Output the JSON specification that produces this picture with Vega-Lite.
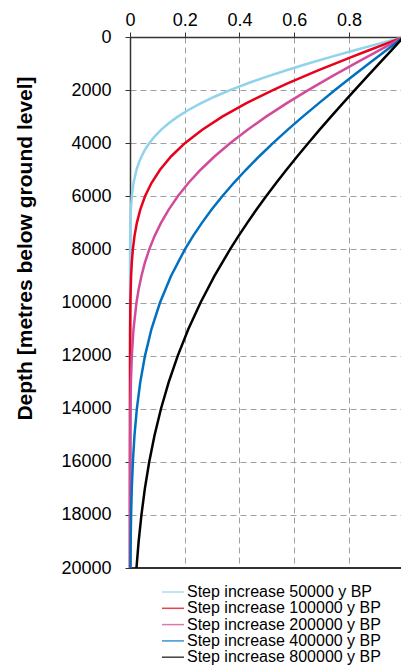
{
  "$schema": "https://vega.github.io/schema/vega-lite/v6.json",
  "width": 271,
  "height": 531,
  "autosize": {"type": "none"},
  "padding": {"left": 130, "top": 37, "right": 0, "bottom": 98},
  "background": "white",
  "config": {
    "view": {"stroke": null},
    "font": "Liberation Sans",
    "axis": {
      "labelFont": "Liberation Sans",
      "labelFontSize": 18,
      "labelColor": "#000000",
      "labelFlush": false,
      "titleFont": "Liberation Sans",
      "titleFontSize": 21,
      "titleFontWeight": "bold",
      "titleColor": "#000000",
      "domainColor": "#333333",
      "domainWidth": 1.5,
      "tickColor": "#333333",
      "tickSize": 5,
      "tickWidth": 1,
      "grid": true,
      "gridColor": "#a0a0a0",
      "gridDash": [6, 4],
      "gridWidth": 1
    }
  },
  "data": {
    "values": [
      {"s": "50000", "d": 0, "v": 1},
      {"s": "50000", "d": 250, "v": 0.9099},
      {"s": "50000", "d": 500, "v": 0.821},
      {"s": "50000", "d": 750, "v": 0.7343},
      {"s": "50000", "d": 1000, "v": 0.6509},
      {"s": "50000", "d": 1250, "v": 0.5716},
      {"s": "50000", "d": 1500, "v": 0.4973},
      {"s": "50000", "d": 1750, "v": 0.4284},
      {"s": "50000", "d": 2000, "v": 0.3654},
      {"s": "50000", "d": 2250, "v": 0.3086},
      {"s": "50000", "d": 2500, "v": 0.2579},
      {"s": "50000", "d": 2750, "v": 0.2133},
      {"s": "50000", "d": 3000, "v": 0.1746},
      {"s": "50000", "d": 3250, "v": 0.1414},
      {"s": "50000", "d": 3500, "v": 0.1132},
      {"s": "50000", "d": 3750, "v": 0.0897},
      {"s": "50000", "d": 4000, "v": 0.0703},
      {"s": "50000", "d": 4250, "v": 0.0544},
      {"s": "50000", "d": 4500, "v": 0.0418},
      {"s": "50000", "d": 4750, "v": 0.0316},
      {"s": "50000", "d": 5000, "v": 0.0237},
      {"s": "50000", "d": 5500, "v": 0.0128},
      {"s": "50000", "d": 6000, "v": 0.0066},
      {"s": "50000", "d": 6500, "v": 0.0033},
      {"s": "50000", "d": 7000, "v": 0.0016},
      {"s": "50000", "d": 7500, "v": 0.0007},
      {"s": "50000", "d": 8000, "v": 0.0003},
      {"s": "50000", "d": 9000, "v": 0.0001},
      {"s": "50000", "d": 10000, "v": 0},
      {"s": "50000", "d": 14000, "v": 0},
      {"s": "50000", "d": 20000, "v": 0},
      {"s": "100000", "d": 0, "v": 1},
      {"s": "100000", "d": 250, "v": 0.9363},
      {"s": "100000", "d": 500, "v": 0.8729},
      {"s": "100000", "d": 750, "v": 0.8104},
      {"s": "100000", "d": 1000, "v": 0.749},
      {"s": "100000", "d": 1250, "v": 0.6892},
      {"s": "100000", "d": 1500, "v": 0.6312},
      {"s": "100000", "d": 1750, "v": 0.5755},
      {"s": "100000", "d": 2000, "v": 0.5222},
      {"s": "100000", "d": 2500, "v": 0.4236},
      {"s": "100000", "d": 3000, "v": 0.3371},
      {"s": "100000", "d": 3500, "v": 0.2627},
      {"s": "100000", "d": 4000, "v": 0.2005},
      {"s": "100000", "d": 4500, "v": 0.1498},
      {"s": "100000", "d": 5000, "v": 0.1097},
      {"s": "100000", "d": 5500, "v": 0.0784},
      {"s": "100000", "d": 6000, "v": 0.0549},
      {"s": "100000", "d": 6500, "v": 0.0375},
      {"s": "100000", "d": 7000, "v": 0.0251},
      {"s": "100000", "d": 7500, "v": 0.0164},
      {"s": "100000", "d": 8000, "v": 0.0105},
      {"s": "100000", "d": 8500, "v": 0.0065},
      {"s": "100000", "d": 9000, "v": 0.004},
      {"s": "100000", "d": 10000, "v": 0.0014},
      {"s": "100000", "d": 11000, "v": 0.0005},
      {"s": "100000", "d": 12000, "v": 0.0002},
      {"s": "100000", "d": 14000, "v": 0},
      {"s": "100000", "d": 20000, "v": 0},
      {"s": "200000", "d": 0, "v": 1},
      {"s": "200000", "d": 500, "v": 0.9099},
      {"s": "200000", "d": 1000, "v": 0.821},
      {"s": "200000", "d": 1500, "v": 0.7343},
      {"s": "200000", "d": 2000, "v": 0.6509},
      {"s": "200000", "d": 2500, "v": 0.5716},
      {"s": "200000", "d": 3000, "v": 0.4973},
      {"s": "200000", "d": 3500, "v": 0.4284},
      {"s": "200000", "d": 4000, "v": 0.3654},
      {"s": "200000", "d": 4500, "v": 0.3086},
      {"s": "200000", "d": 5000, "v": 0.2579},
      {"s": "200000", "d": 5500, "v": 0.2133},
      {"s": "200000", "d": 6000, "v": 0.1746},
      {"s": "200000", "d": 6500, "v": 0.1414},
      {"s": "200000", "d": 7000, "v": 0.1132},
      {"s": "200000", "d": 7500, "v": 0.0897},
      {"s": "200000", "d": 8000, "v": 0.0703},
      {"s": "200000", "d": 8500, "v": 0.0544},
      {"s": "200000", "d": 9000, "v": 0.0418},
      {"s": "200000", "d": 9500, "v": 0.0316},
      {"s": "200000", "d": 10000, "v": 0.0237},
      {"s": "200000", "d": 11000, "v": 0.0128},
      {"s": "200000", "d": 12000, "v": 0.0066},
      {"s": "200000", "d": 13000, "v": 0.0033},
      {"s": "200000", "d": 14000, "v": 0.0016},
      {"s": "200000", "d": 15000, "v": 0.0007},
      {"s": "200000", "d": 16000, "v": 0.0003},
      {"s": "200000", "d": 17000, "v": 0.0001},
      {"s": "200000", "d": 18000, "v": 0},
      {"s": "200000", "d": 20000, "v": 0},
      {"s": "400000", "d": 0, "v": 1},
      {"s": "400000", "d": 500, "v": 0.9363},
      {"s": "400000", "d": 1000, "v": 0.8729},
      {"s": "400000", "d": 1500, "v": 0.8104},
      {"s": "400000", "d": 2000, "v": 0.749},
      {"s": "400000", "d": 2500, "v": 0.6892},
      {"s": "400000", "d": 3000, "v": 0.6312},
      {"s": "400000", "d": 3500, "v": 0.5755},
      {"s": "400000", "d": 4000, "v": 0.5222},
      {"s": "400000", "d": 4500, "v": 0.4715},
      {"s": "400000", "d": 5000, "v": 0.4236},
      {"s": "400000", "d": 5500, "v": 0.3786},
      {"s": "400000", "d": 6000, "v": 0.3371},
      {"s": "400000", "d": 6500, "v": 0.2982},
      {"s": "400000", "d": 7000, "v": 0.2627},
      {"s": "400000", "d": 7500, "v": 0.2301},
      {"s": "400000", "d": 8000, "v": 0.2005},
      {"s": "400000", "d": 9000, "v": 0.1498},
      {"s": "400000", "d": 10000, "v": 0.1097},
      {"s": "400000", "d": 11000, "v": 0.0784},
      {"s": "400000", "d": 12000, "v": 0.0549},
      {"s": "400000", "d": 13000, "v": 0.0375},
      {"s": "400000", "d": 14000, "v": 0.0251},
      {"s": "400000", "d": 15000, "v": 0.0164},
      {"s": "400000", "d": 16000, "v": 0.0105},
      {"s": "400000", "d": 17000, "v": 0.0065},
      {"s": "400000", "d": 18000, "v": 0.004},
      {"s": "400000", "d": 19000, "v": 0.0024},
      {"s": "400000", "d": 20000, "v": 0.0014},
      {"s": "800000", "d": 0, "v": 1},
      {"s": "800000", "d": 500, "v": 0.9549},
      {"s": "800000", "d": 1000, "v": 0.9099},
      {"s": "800000", "d": 1500, "v": 0.8652},
      {"s": "800000", "d": 2000, "v": 0.821},
      {"s": "800000", "d": 2500, "v": 0.7773},
      {"s": "800000", "d": 3000, "v": 0.7343},
      {"s": "800000", "d": 3500, "v": 0.6921},
      {"s": "800000", "d": 4000, "v": 0.6509},
      {"s": "800000", "d": 4500, "v": 0.6107},
      {"s": "800000", "d": 5000, "v": 0.5716},
      {"s": "800000", "d": 5500, "v": 0.5338},
      {"s": "800000", "d": 6000, "v": 0.4973},
      {"s": "800000", "d": 6500, "v": 0.4621},
      {"s": "800000", "d": 7000, "v": 0.4284},
      {"s": "800000", "d": 7500, "v": 0.3961},
      {"s": "800000", "d": 8000, "v": 0.3654},
      {"s": "800000", "d": 9000, "v": 0.3086},
      {"s": "800000", "d": 10000, "v": 0.2579},
      {"s": "800000", "d": 11000, "v": 0.2133},
      {"s": "800000", "d": 12000, "v": 0.1746},
      {"s": "800000", "d": 13000, "v": 0.1414},
      {"s": "800000", "d": 14000, "v": 0.1132},
      {"s": "800000", "d": 15000, "v": 0.0897},
      {"s": "800000", "d": 16000, "v": 0.0703},
      {"s": "800000", "d": 17000, "v": 0.0544},
      {"s": "800000", "d": 18000, "v": 0.0418},
      {"s": "800000", "d": 19000, "v": 0.0316},
      {"s": "800000", "d": 20000, "v": 0.0237}
    ]
  },
  "layer": [
    {
      "mark": {"type": "rule", "color": "#333333", "strokeWidth": 1.5},
      "encoding": {"y": {"datum": 20000, "type": "quantitative"}}
    },
    {
      "mark": {"type": "line", "strokeWidth": 2.5},
      "encoding": {
        "x": {
          "field": "v",
          "type": "quantitative",
          "scale": {"domain": [0, 0.99], "nice": false, "zero": false},
          "axis": {
            "orient": "top",
            "values": [0, 0.2, 0.4, 0.6, 0.8],
            "format": "~g",
            "grid": true,
            "labelPadding": 3,
            "title": "Relative temperature change [-]",
            "titleX": 260,
            "titleY": -44,
            "titleAlign": "right",
            "titleAnchor": null,
            "titleBaseline": "alphabetic"
          }
        },
        "y": {
          "field": "d",
          "type": "quantitative",
          "scale": {"domain": [0, 20000], "reverse": true, "nice": false},
          "axis": {
            "values": [0, 2000, 4000, 6000, 8000, 10000, 12000, 14000, 16000, 18000, 20000],
            "format": "d",
            "grid": true,
            "labelPadding": 14,
            "title": "Depth [metres below ground level]",
            "titleX": -99,
            "titleY": 211,
            "titleAngle": 270,
            "titleAlign": "center",
            "titleBaseline": "alphabetic"
          }
        },
        "color": {
          "field": "s",
          "type": "nominal",
          "scale": {
            "domain": ["50000", "100000", "200000", "400000", "800000"],
            "range": ["#8fd3ec", "#e8001c", "#d24b9b", "#0070c0", "#000000"]
          },
          "legend": {
            "orient": "none",
            "legendX": 31,
            "legendY": 547,
            "title": null,
            "symbolType": "stroke",
            "symbolSize": 484,
            "symbolStrokeWidth": 1.5,
            "symbolOpacity": 0.75,
            "clipHeight": 16,
            "labelExpr": "'Step increase ' + datum.label + ' y BP'",
            "labelFont": "Liberation Sans",
            "labelFontSize": 16,
            "labelLimit": 300,
            "labelColor": "#000000",
            "labelOffset": 2,
            "rowPadding": 0.3
          }
        },
        "order": {"field": "d", "type": "quantitative"}
      }
    }
  ]
}
